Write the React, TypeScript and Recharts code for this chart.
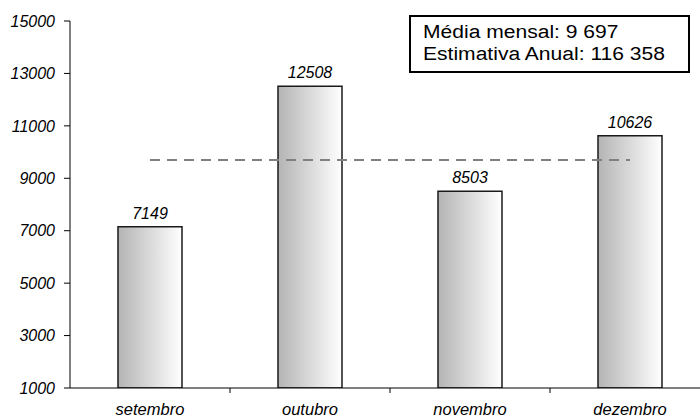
import React from "react";
import { ComposedChart, Bar, Line, XAxis, YAxis, LabelList } from "recharts";

const months = ["setembro", "outubro", "novembro", "dezembro"];
const values = [7149, 12508, 8503, 10626];
const monthlyAverage = 9697;
const yTicks = [1000, 3000, 5000, 7000, 9000, 11000, 13000, 15000];
const legendLines = ["Média mensal: 9 697", "Estimativa Anual: 116 358"];

const data = months.map((m, i) => ({ month: m, value: values[i], avg: monthlyAverage }));

const FONT = "'Liberation Sans', Arial, sans-serif";

const XTick = (props: any) => {
  const { x, y, payload } = props;
  return (
    <g>
      <line x1={x + 80} y1={y} x2={x + 80} y2={y + 5} stroke="#000" strokeWidth={1} />
      <text x={x} y={y + 27} textAnchor="middle" fontFamily={FONT} fontStyle="italic" fontSize={16.5} fill="#000">
        {payload.value}
      </text>
    </g>
  );
};

export default function App() {
  return (
    <div style={{ position: "absolute", left: 0, top: 0, width: 700, height: 419, overflow: "hidden", background: "#fff" }}>
      <ComposedChart width={712} height={419} data={data} margin={{ top: 21, right: 2, left: 0, bottom: 1 }}>
        <defs>
          <linearGradient id="barGrad" x1="0" y1="0" x2="1" y2="0">
            <stop offset="0%" stopColor="#b4b4b4" />
            <stop offset="100%" stopColor="#ffffff" />
          </linearGradient>
        </defs>
        <XAxis
          dataKey="month"
          height={30}
          tickLine={false}
          tickSize={0}
          tickMargin={0}
          tick={<XTick />}
          axisLine={{ stroke: "#000", strokeWidth: 1 }}
          interval={0}
        />
        <YAxis
          width={70}
          domain={[1000, 15000]}
          ticks={yTicks}
          allowDataOverflow
          tickSize={6}
          tickMargin={9}
          axisLine={{ stroke: "#000", strokeWidth: 1 }}
          tickLine={{ stroke: "#000" }}
          tick={{ fontFamily: FONT, fontStyle: "italic", fontSize: 16, fill: "#000" }}
        />
        <Bar dataKey="value" barSize={64} fill="url(#barGrad)" stroke="#1a1a1a" strokeWidth={1.5} isAnimationActive={false}>
          <LabelList
            dataKey="value"
            position="top"
            offset={8}
            style={{ fontFamily: FONT, fontStyle: "italic", fontSize: 16, fill: "#000" }}
          />
        </Bar>
        <Line
          dataKey="avg"
          stroke="#808080"
          strokeWidth={2}
          strokeDasharray="10 7"
          dot={false}
          activeDot={false}
          isAnimationActive={false}
        />
      </ComposedChart>
      <div
        style={{
          position: "absolute",
          left: 409,
          top: 15,
          width: 281,
          height: 58,
          border: "2px solid #000",
          background: "#fff",
          boxSizing: "border-box",
          color: "#000",
          overflow: "hidden",
        }}
      >
        <div
          style={{
            position: "absolute",
            left: 12,
            top: 4,
            fontFamily: FONT,
            fontSize: 18,
            lineHeight: "22px",
            whiteSpace: "nowrap",
            transform: "scaleX(1.17)",
            transformOrigin: "0 0",
          }}
        >
          {legendLines.map((l) => (
            <div key={l}>{l}</div>
          ))}
        </div>
      </div>
    </div>
  );
}
